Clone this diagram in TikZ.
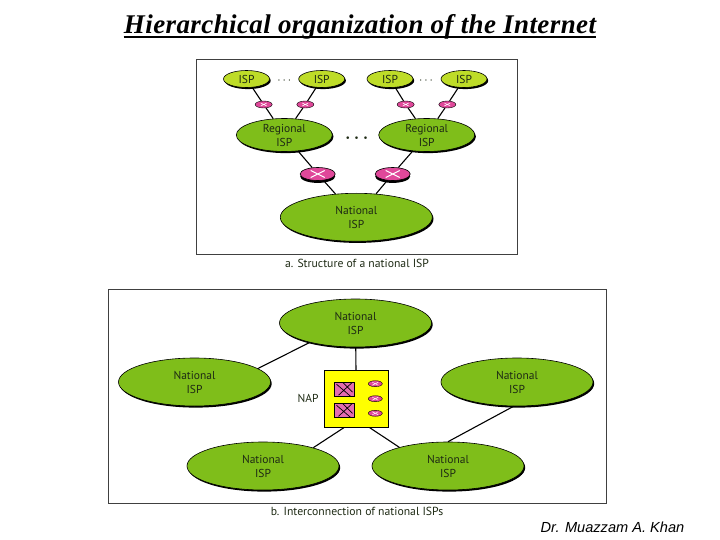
\documentclass[tikz,border=0pt]{standalone}
\usepackage{fontspec}
\setmainfont{Liberation Serif}
\newfontfamily\labelfont{PT Sans}
\newfontfamily\footfont{Liberation Sans}
\usetikzlibrary{shapes.geometric,shadows}
\definecolor{ispc}{HTML}{BEDC28}
\definecolor{natc}{HTML}{7FBE1A}
\definecolor{rtrc}{HTML}{E0489A}
\definecolor{swc}{HTML}{E46CB0}
\definecolor{napc}{HTML}{FFFF00}
\definecolor{txtc}{HTML}{1E2A14}
\begin{document}
\begin{tikzpicture}[x=1pt,y=-1pt,
    every node/.style={font=\labelfont\fontsize{11.5}{14}\selectfont,text=txtc,align=center},
    blob/.style={ellipse,draw=black,line width=.6pt,inner sep=0pt,
                 drop shadow={shadow xshift=1.2pt,shadow yshift=-1.6pt,fill=black,opacity=1}},
    ispnode/.style={blob,fill=ispc,minimum width=46pt,minimum height=17pt},
    regnode/.style={blob,fill=natc,minimum width=96pt,minimum height=33pt},
    natnode/.style={blob,fill=natc,minimum width=152pt,minimum height=48pt},
    rtrsmall/.style={ellipse,fill=rtrc,draw=black,line width=.4pt,inner sep=0pt,
                 minimum width=17pt,minimum height=7pt,
                 path picture={\draw[white,line width=.5pt] (-3pt,-1.5pt)--(3pt,1.5pt) (-3pt,1.5pt)--(3pt,-1.5pt);}},
    rtrbig/.style={ellipse,fill=rtrc,draw=black,line width=.6pt,inner sep=0pt,
                 minimum width=35pt,minimum height=13pt,
                 drop shadow={shadow xshift=0pt,shadow yshift=-2.4pt,fill=black,opacity=1},
                 path picture={\draw[white,line width=1pt] (-7pt,-3.5pt)--(7pt,3.5pt) (-7pt,3.5pt)--(7pt,-3.5pt);}},
    swnode/.style={rectangle,fill=swc,draw=black,line width=.6pt,inner sep=0pt,
                 minimum width=20pt,minimum height=14pt,
                 path picture={\draw[black,line width=.7pt] (-8pt,5pt)--(6pt,-7pt) (-6pt,-6pt)--(8pt,7pt) (-2pt,7pt)--(8pt,-3pt);}},
    napbox/.style={rectangle,fill=napc,draw=black,line width=.9pt,inner sep=0pt,
                 minimum width=64pt,minimum height=56.5pt},
    conn/.style={draw=black,line width=1.1pt},
    framebox/.style={draw=black!75,line width=.8pt},
    capnode/.style={font=\labelfont\fontsize{11.7}{13}\selectfont},
    dots/.style={inner sep=0pt}]
  \useasboundingbox (0,0) rectangle (720,540);
  \node[font=\fontsize{27}{29}\selectfont\bfseries\itshape\addfontfeature{LetterSpace=1.5},text=black,inner sep=0pt] (title) at (360,26.5)
    {Hierarchical organization of the Internet};
  \draw[line width=1.8pt] ([yshift=-3.5pt]title.base west) -- ([yshift=-3.5pt]title.base east);
  % top: structure of one national ISP
  \draw[framebox] (196.5,59.5) rectangle (517.5,254);
  \foreach \nm/\x in {ispa/246.5,ispb/321.7,ispc/390,ispd/464}{\node[ispnode] (\nm) at (\x,79){ISP};}
  \foreach \nm/\x in {ra/263.7,rb/305.3,rc/405.7,rd/447.3}{\node[rtrsmall] (\nm) at (\x,104.5){};}
  \foreach \nm/\x in {rega/284.3,regb/426.7}{\node[regnode] (\nm) at (\x,135){Regional\\ISP};}
  \foreach \nm/\x in {bra/317.7,brb/392.7}{\node[rtrbig] (\nm) at (\x,174){};}
  \node[natnode] (nat) at (356.3,217.3){National\\ISP};
  \node[dots,font=\fontsize{13}{14}\selectfont] (dota) at (284.3,81){$\cdots$};
  \node[dots,font=\fontsize{13}{14}\selectfont] (dotb) at (426,81){$\cdots$};
  \node[dots,font=\fontsize{16}{16}\selectfont\boldmath] (dotc) at (356.7,138){$\cdots$};
  \foreach \p/\q in {ispa/ra,ispb/rb,ispc/rc,ispd/rd,ra/rega,rb/rega,rc/regb,rd/regb,rega/bra,regb/brb,bra/nat,brb/nat}{
    \draw[conn] (\p) -- (\q);}
  \node[capnode] (capa) at (357,263){a. Structure of a national ISP};
  % bottom: national ISPs joined at the NAP
  \draw[framebox] (108.5,289.5) rectangle (606,503);
  \node[natnode] (natt) at (355.5,323){National\\ISP};
  \node[natnode] (natl) at (194.5,382){National\\ISP};
  \node[natnode] (natr) at (517,382){National\\ISP};
  \node[natnode] (natbl) at (263,466){National\\ISP};
  \node[natnode] (natbr) at (448,466){National\\ISP};
  \node[napbox] (nap) at (356.3,399){};
  \node (naplabel) at (308,398.5){NAP};
  \foreach \nm/\y in {swa/389.2,swb/410.3}{\node[swnode] (\nm) at (344.5,\y){};}
  \foreach \nm/\y in {sra/383.7,srb/398.7,src/413.3}{\node[rtrsmall,minimum width=14pt,minimum height=6pt] (\nm) at (375.3,\y){};}
  \draw[conn] (natt) -- (nap);
  \draw[conn] (natt.203) -- (natl.12);
  \draw[conn] (natr.262) -- (natbr.90);
  \draw[conn] (nap.south west) ++(20,0) coordinate (napa) -- (natbl.20);
  \draw[conn] (nap.south east) ++(-19,0) coordinate (napb) -- (natbr.159);
  \node[capnode] (capb) at (357,511){b. Interconnection of national ISPs};
  \node[font=\footfont\itshape\fontsize{14.6}{16}\selectfont,text=black] (foot) at (612.5,527){Dr. Muazzam A. Khan};
\end{tikzpicture}
\end{document}
